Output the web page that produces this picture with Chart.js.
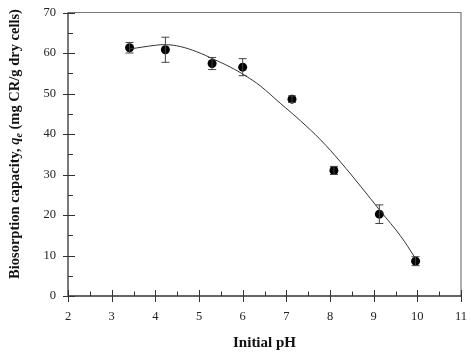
<!DOCTYPE html>
<html><head><meta charset="utf-8">
<script src="https://cdn.jsdelivr.net/npm/chart.js@4"></script>
<style>html,body{margin:0;padding:0;background:#fff}#wrap{width:471px;height:356px}</style>
</head><body><div id="wrap"><canvas id="c" width="471" height="356"></canvas></div>
<script>
const phValues = [3.41, 4.23, 5.30, 6.00, 7.13, 8.09, 9.13, 9.96];
const qeValues = [61.3, 60.8, 57.4, 56.5, 48.6, 31.0, 20.2, 8.6];
const qeErrors = [1.3, 3.1, 1.5, 2.1, 0.8, 1.0, 2.3, 1.1];
const fitPH = [3.42, 4.0, 4.25, 4.57, 4.95, 5.33, 5.72, 6.06, 6.40, 6.86, 7.32, 7.78, 8.24, 8.70, 9.16, 9.61, 9.95];
const fitQe = [61.0, 61.9, 62.05, 61.6, 60.3, 58.5, 56.5, 54.4, 51.9, 47.6, 43.3, 38.6, 33.1, 27.1, 20.9, 14.9, 9.4];
const xTicks = [2,3,4,5,6,7,8,9,10,11];
const yTicks = [0,10,20,30,40,50,60,70];
const xTitle = 'Initial pH';
const yTitleParts = [
  {t:'Biosorption capacity, ', s:'bold'},
  {t:'q', s:'italic bold'},
  {t:'e', s:'italic bold', sub:true},
  {t:' (mg CR/g dry cells)', s:'bold'}
];
const FONT = '"Liberation Serif", "Times New Roman", serif';

const decor = {
  id:'decor',
  afterDatasetsDraw(chart){
    const ctx = chart.ctx;
    const xs = chart.scales.x, ys = chart.scales.y;
    ctx.save();
    ctx.strokeStyle = '#444'; ctx.lineWidth = 1;
    phValues.forEach((p,i)=>{
      const x = xs.getPixelForValue(p);
      const y1 = ys.getPixelForValue(qeValues[i]+qeErrors[i]);
      const y2 = ys.getPixelForValue(qeValues[i]-qeErrors[i]);
      ctx.beginPath();
      ctx.moveTo(x,y1); ctx.lineTo(x,y2);
      ctx.moveTo(x-4,y1); ctx.lineTo(x+4,y1);
      ctx.moveTo(x-4,y2); ctx.lineTo(x+4,y2);
      ctx.stroke();
    });
    ctx.restore();
  },
  afterDraw(chart){
    const ctx = chart.ctx, a = chart.chartArea;
    const xs = chart.scales.x, ys = chart.scales.y;
    ctx.save();
    ctx.strokeStyle = '#777'; ctx.lineWidth = 1.2;
    ctx.beginPath();
    ctx.moveTo(a.left, a.top); ctx.lineTo(a.right, a.top); ctx.lineTo(a.right, a.bottom);
    ctx.stroke();
    ctx.strokeStyle = '#333'; ctx.lineWidth = 1.3;
    ctx.beginPath();
    ctx.moveTo(a.left, a.top); ctx.lineTo(a.left, a.bottom); ctx.lineTo(a.right, a.bottom);
    ctx.stroke();
    ctx.lineWidth = 1;
    ctx.beginPath();
    yTicks.forEach(v=>{
      const y = Math.round(ys.getPixelForValue(v))+0.5;
      ctx.moveTo(a.left-5,y); ctx.lineTo(a.left+7,y);
      if (v<70){ const ym = Math.round(ys.getPixelForValue(v+5))+0.5; ctx.moveTo(a.left,ym); ctx.lineTo(a.left+5,ym); }
    });
    xTicks.forEach(v=>{
      const x = Math.round(xs.getPixelForValue(v))+0.5;
      ctx.moveTo(x,a.bottom+6); ctx.lineTo(x,a.bottom-6);
      if (v<11){ const xm = Math.round(xs.getPixelForValue(v+0.5))+0.5; ctx.moveTo(xm,a.bottom); ctx.lineTo(xm,a.bottom-4.5); }
    });
    ctx.stroke();
    ctx.fillStyle = '#111';
    ctx.translate(15, 144);
    ctx.rotate(-Math.PI/2);
    ctx.textBaseline = 'middle';
    let total = 0;
    const sz = 14.5, ssz = 10;
    const widths = yTitleParts.map(p=>{ ctx.font = p.s+' '+(p.sub?ssz:sz)+'px '+FONT; const w = ctx.measureText(p.t).width; total+=w; return w; });
    let x = -total/2;
    yTitleParts.forEach((p,i)=>{
      ctx.font = p.s+' '+(p.sub?ssz:sz)+'px '+FONT;
      ctx.textAlign = 'left';
      ctx.fillText(p.t, x, p.sub?4:0);
      x += widths[i];
    });
    ctx.restore();
  }
};

new Chart(document.getElementById('c'), {
  type:'scatter',
  data:{
    datasets:[
      { label:'fit', data: fitPH.map((p,i)=>({x:p,y:fitQe[i]})), showLine:true, pointRadius:0,
        borderColor:'#333', borderWidth:1, fill:false, tension:0.4 },
      { label:'data', data: phValues.map((p,i)=>({x:p,y:qeValues[i]})), pointRadius:4.5,
        pointBackgroundColor:'#000', pointBorderColor:'#000', borderWidth:0, showLine:false }
    ]
  },
  plugins:[decor],
  options:{
    responsive:false, animation:false,
    layout:{padding:{left:0,right:10,top:12.5,bottom:0}},
    plugins:{legend:{display:false}, tooltip:{enabled:false}},
    scales:{
      x:{ type:'linear', min:2, max:11,
        afterFit(s){ s.height = 60; s.paddingLeft = 0; s.paddingRight = 0; },
        afterBuildTicks(s){ s.ticks = xTicks.map(v=>({value:v})); },
        grid:{display:false, drawTicks:false}, border:{display:false},
        ticks:{ padding:13, color:'#222', font:{family:FONT, size:12.5}, maxRotation:0 },
        title:{ display:true, text:xTitle, color:'#111', font:{family:FONT, size:15, weight:'bold'}, padding:{top:0,bottom:4} }
      },
      y:{ type:'linear', min:0, max:70,
        afterFit(s){ s.width = 68; s.paddingTop = 0; s.paddingBottom = 0; },
        afterBuildTicks(s){ s.ticks = yTicks.map(v=>({value:v})); },
        grid:{display:false, drawTicks:false}, border:{display:false},
        ticks:{ padding:12, color:'#222', font:{family:FONT, size:12.5} }
      }
    }
  }
});
</script></body></html>
